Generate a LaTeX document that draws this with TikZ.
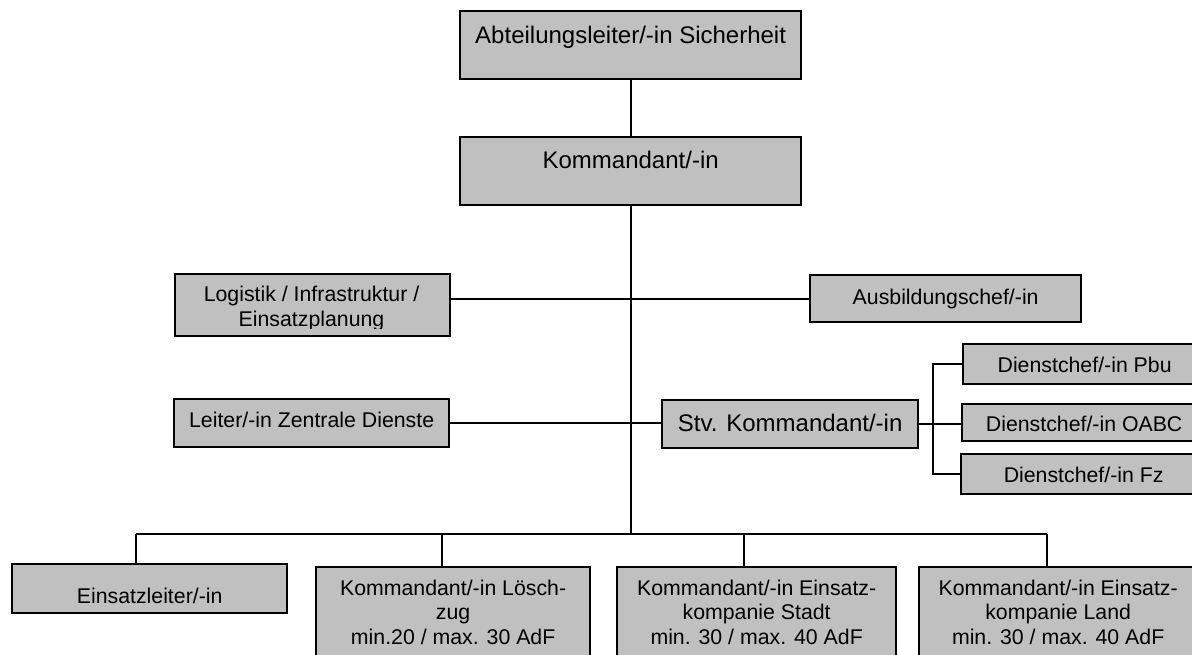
\documentclass[tikz,border=0pt]{standalone}
\usepackage{fontspec}
\setmainfont{Liberation Sans}
\definecolor{boxgrey}{HTML}{C0C0C0}
\newcommand\stacklines[1]{\vtop{\halign{\hfil##\hfil\cr#1\crcr}}}
\begin{document}
\begin{tikzpicture}[x=1pt,y=-1pt,
  box/.style={draw=black, line width=2.3pt, fill=boxgrey, inner sep=0pt, anchor=north west,
              font=\fontsize{21.3pt}{24.7pt}\selectfont},
  bigtxt/.style={font=\fontsize{24pt}{27.6pt}\selectfont},
  conn/.style={line width=2pt}]
\useasboundingbox (0,0) rectangle (1192,655);
\fill[white] (0,0) rectangle (1192,655);
\clip (0,0) rectangle (1192,655);

% boxes
\node[box, bigtxt, minimum width=341pt, minimum height=68pt, text height=32pt, text depth=36pt] (abt) at (459,10) {Abteilungsleiter/-in Sicherheit};
\node[box, bigtxt, minimum width=341pt, minimum height=68pt, text height=31pt, text depth=37pt] (kdt) at (459,136) {Kommandant/-in};
\node[box, minimum width=275pt, minimum height=62pt] (log) at (174,273) {};
\begin{scope}
  \clip (174,273) rectangle (449,328);
  \node[inner sep=0pt, anchor=base, font=\fontsize{21.3pt}{24.8pt}\selectfont] (logt) at (311.5,301.7) {\stacklines{Logistik / Infrastruktur /\cr Einsatzplanung}};
\end{scope}
\node[box, minimum width=271pt, minimum height=47pt, text height=29pt, text depth=18pt] (ausb) at (809,274) {Ausbildungschef/-in};
\node[box, minimum width=275pt, minimum height=48pt, text height=28.7pt, text depth=19.3pt] (leit) at (173,398) {Leiter/-in Zentrale Dienste};
\node[box, bigtxt, minimum width=256pt, minimum height=48pt, text height=31pt, text depth=17pt] (stv) at (661,399) {Stv. Kommandant/-in};
\node[box, minimum width=243pt, minimum height=40pt, text height=28.7pt, text depth=11.3pt] (pbu) at (962,343) {Dienstchef/-in Pbu};
\node[box, minimum width=244pt, minimum height=37pt, text height=27pt, text depth=10pt] (oabc) at (961,403) {Dienstchef/-in OABC};
\node[box, minimum width=245pt, minimum height=40pt, text height=28.7pt, text depth=11.3pt] (fz) at (960,453) {Dienstchef/-in Fz};
\node[box, minimum width=275pt, minimum height=49pt, text height=39pt, text depth=10pt] (el) at (11,563) {Einsatzleiter/-in};
\node[box, minimum width=274pt, minimum height=96pt, text height=28pt, text depth=68pt] (lz) at (315,566) {\stacklines{Kommandant/-in Lösch-\cr zug\cr min.20 / max. 30 AdF}};
\node[box, minimum width=279pt, minimum height=96pt, text height=28pt, text depth=68pt] (eks) at (616,566) {\stacklines{Kommandant/-in Einsatz-\cr kompanie Stadt\cr min. 30 / max. 40 AdF}};
\node[box, minimum width=278pt, minimum height=96pt, text height=28pt, text depth=68pt] (ekl) at (918,566) {\stacklines{Kommandant/-in Einsatz-\cr kompanie Land\cr min. 30 / max. 40 AdF}};

% helper coordinates
\coordinate (b1) at (136,534);
\coordinate (b2) at (442,534);
\coordinate (b3) at (744,534);
\coordinate (b4) at (1047,534);
\coordinate (brk) at (933,0);

% connectors
\draw[conn] (abt.south) -- (kdt.north);
\draw[conn] (kdt.south) -- (kdt.south |- b1);
\draw[conn] (log.east |- ausb.west) -- (ausb.west);
\draw[conn] (leit.east) -- (leit.east -| stv.west);
\draw[conn] (stv.east) -- (stv.east -| oabc.west);
\draw[conn] (pbu.west) -- (pbu.west -| brk) -- (fz.west -| brk) -- (fz.west);
\draw[conn] (b1) -- (b4);
\draw[conn] (b1) -- (b1 |- el.north);
\draw[conn] (b2) -- (b2 |- lz.north);
\draw[conn] (b3) -- (b3 |- eks.north);
\draw[conn] (b4) -- (b4 |- ekl.north);
\end{tikzpicture}
\end{document}
